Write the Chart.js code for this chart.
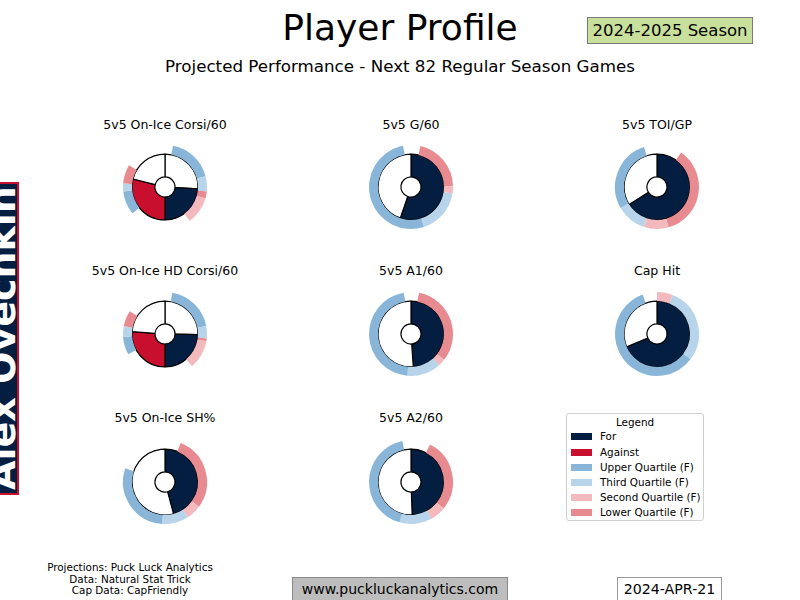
<!DOCTYPE html>
<html>
<head>
<meta charset="utf-8">
<script src="https://cdn.jsdelivr.net/npm/chart.js@4/dist/chart.umd.min.js"></script>
<style>
  html, body { margin: 0; padding: 0; background: #fff; }
  #page { position: relative; width: 800px; height: 600px; overflow: hidden; font-family: "DejaVu Sans", sans-serif; color: #000; }
  .txt { position: absolute; white-space: nowrap; line-height: 1; transform: translate(-50%, -50%); }
  .pie { position: absolute; width: 100px; height: 100px; }
  .box { position: absolute; box-sizing: border-box; }
</style>
</head>
<body>
<div id="page"></div>
<script>
// chart titles, left-to-right, top-to-bottom
const titles = ["5v5 On-Ice Corsi/60", "5v5 G/60", "5v5 TOI/GP",
                "5v5 On-Ice HD Corsi/60", "5v5 A1/60", "Cap Hit",
                "5v5 On-Ice SH%", "5v5 A2/60"];

// inner ring: wedge sizes (degrees, clockwise from 12 o'clock)
const innerVals = [
    [93, 87, 104, 76],
    [199, 161],
    [238, 122],
    [91, 89, 94, 86],
    [176, 184],
    [247, 113],
    [165, 195],
    [178, 182]
];
const innerKinds = [
    ["blank", "for", "against", "blank"],
    ["for", "blank"],
    ["for", "blank"],
    ["blank", "for", "against", "blank"],
    ["for", "blank"],
    ["for", "blank"],
    ["for", "blank"],
    ["for", "blank"]
];

// outer ring: quartile bands (degrees, clockwise from 12 o'clock)
const outerVals = [
    [11, 64, 21, 10, 38, 87, 33, 11, 26, 59],
    [13, 76, 10, 63, 187, 11],
    [35, 129, 34, 42, 102, 18],
    [10, 69, 17, 4, 40, 101, 25, 15, 22, 57],
    [11, 117, 10, 47, 165, 10],
    [22, 105, 213, 20],
    [22, 104, 21, 37, 105, 71],
    [27, 102, 22, 45, 152, 12]
];
const outerKinds = [
    ["gap", "upper", "third", "lower", "second", "gap", "upper", "third", "lower", "gap"],
    ["gap", "lower", "second", "third", "upper", "gap"],
    ["gap", "lower", "second", "third", "upper", "gap"],
    ["gap", "upper", "third", "lower", "second", "gap", "upper", "third", "lower", "gap"],
    ["gap", "lower", "second", "third", "upper", "gap"],
    ["second", "third", "upper", "gap"],
    ["gap", "lower", "second", "third", "upper", "gap"],
    ["gap", "lower", "second", "third", "upper", "gap"]
];

const legendLabels = ["For", "Against", "Upper Quartile (F)", "Third Quartile (F)", "Second Quartile (F)", "Lower Quartile (F)"];
const legendKinds = ["for", "against", "upper", "third", "second", "lower"];

const colors = {
    for: "#041E42",
    against: "#C8102E",
    blank: "#ffffff",
    upper: "#88b5d8",
    third: "#b8d4ea",
    second: "#f3b9bc",
    lower: "#e88b90",
    gap: "rgba(0,0,0,0)"
};

const centersX = [165, 411, 657];
const centersY = [187, 334, 482];
const titleY = [125, 271, 418];

const page = document.getElementById("page");

function addText(str, x, y, size, extra) {
    const d = document.createElement("div");
    d.className = "txt";
    d.textContent = str;
    d.style.left = x + "px";
    d.style.top = y + "px";
    d.style.fontSize = size + "px";
    if (extra) Object.assign(d.style, extra);
    page.appendChild(d);
    return d;
}

function addBox(x, y, w, h, style) {
    const d = document.createElement("div");
    d.className = "box";
    d.style.left = x + "px";
    d.style.top = y + "px";
    d.style.width = w + "px";
    d.style.height = h + "px";
    Object.assign(d.style, style);
    page.appendChild(d);
    return d;
}

// header
addText("Player Profile", 400, 28, 36);
addText("Projected Performance - Next 82 Regular Season Games", 400, 66, 16.7);
addBox(587, 17, 166, 27, { background: "#c8e09b", border: "1px solid #7a7a7a" });
addText("2024-2025 Season", 670, 31, 16.5);

// player name banner on the left (runs off the page edge, as in the source)
addBox(-3, 182, 22, 313, { background: "#041E42", border: "2.5px solid #C8102E" });
const name = document.createElement("div");
name.textContent = "Alex Ovechkin";
Object.assign(name.style, {
    position: "absolute", left: (1.5 - 160) + "px", top: (338 - 19) + "px",
    width: "320px", height: "38px", lineHeight: "38px", fontSize: "38px",
    fontWeight: "bold", color: "#fff", textAlign: "center", whiteSpace: "nowrap",
    transform: "rotate(-90deg)"
});
page.appendChild(name);

// pies
titles.forEach(function (t, i) {
    const cx = centersX[i % 3];
    const cy = centersY[Math.floor(i / 3)];
    addText(t, cx, titleY[Math.floor(i / 3)], 12.5);

    const cv = document.createElement("canvas");
    cv.className = "pie";
    cv.width = 100;
    cv.height = 100;
    cv.style.left = (cx - 50) + "px";
    cv.style.top = (cy - 50) + "px";
    page.appendChild(cv);

    new Chart(cv.getContext("2d"), {
        type: "doughnut",
        data: {
            labels: outerVals[i].map(function (_, k) { return String(k); }),
            datasets: [
                {
                    data: outerVals[i],
                    backgroundColor: outerKinds[i].map(function (k) { return colors[k]; }),
                    borderWidth: 0,
                    weight: 8.5
                },
                {
                    data: innerVals[i],
                    backgroundColor: innerKinds[i].map(function (k) { return colors[k]; }),
                    borderColor: "#000",
                    borderWidth: 1.2,
                    weight: 21.5
                }
            ]
        },
        options: {
            responsive: false,
            animation: false,
            events: [],
            radius: 42,
            cutout: 12,
            layout: { padding: 0 },
            plugins: { legend: { display: false }, tooltip: { enabled: false } }
        }
    });
});

// legend
addBox(566, 413, 138, 108, { background: "#fff", border: "1px solid #d0d0d0", borderRadius: "3px" });
addText("Legend", 635, 422, 10.4);
const rowY = [436, 452, 467, 482, 497, 512];
legendLabels.forEach(function (lab, i) {
    addBox(571, rowY[i] - 3.5, 21, 7, { background: colors[legendKinds[i]] });
    addText(lab, 600, rowY[i], 10.4, { transform: "translate(0, -50%)" });
});

// footer
addText("Projections: Puck Luck Analytics", 130, 567, 10.4);
addText("Data: Natural Stat Trick", 130, 578.5, 10.4);
addText("Cap Data: CapFriendly", 130, 590, 10.4);
addBox(292, 577, 216, 26, { background: "#bdbdbd", border: "1px solid #8a8a8a" });
addText("www.puckluckanalytics.com", 400, 589, 14);
addBox(617, 577, 105, 26, { background: "#fff", border: "1px solid #9a9a9a" });
addText("2024-APR-21", 669.5, 589, 14.2);
</script>
</body>
</html>
